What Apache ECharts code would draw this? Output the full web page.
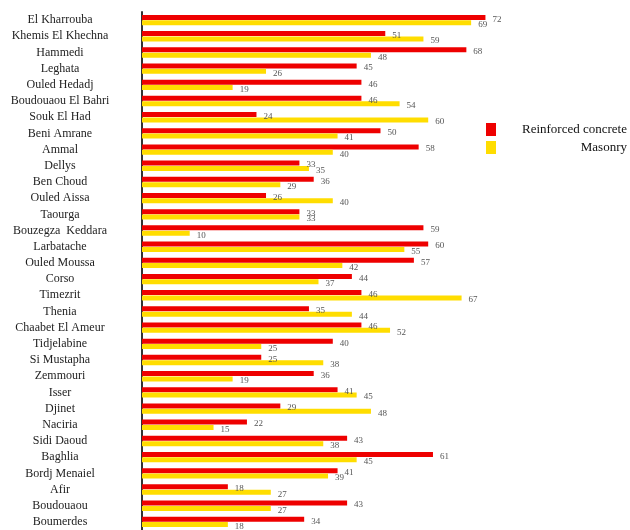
<!DOCTYPE html>
<html>
<head>
<meta charset="utf-8">
<script src="https://cdn.jsdelivr.net/npm/echarts@6/dist/echarts.min.js"></script>
<style>
  html, body { margin: 0; padding: 0; background: #fff; }
  #chart { width: 630px; height: 530px; }
</style>
</head>
<body>
<div id="chart"></div>
<script>
  const communes = ['El Kharrouba', 'Khemis El Khechna', 'Hammedi', 'Leghata', 'Ouled Hedadj',
    'Boudouaou El Bahri', 'Souk El Had', 'Beni Amrane', 'Ammal', 'Dellys', 'Ben Choud',
    'Ouled Aissa', 'Taourga', 'Bouzegza  Keddara', 'Larbatache', 'Ouled Moussa', 'Corso',
    'Timezrit', 'Thenia', 'Chaabet El Ameur', 'Tidjelabine', 'Si Mustapha', 'Zemmouri',
    'Isser', 'Djinet', 'Naciria', 'Sidi Daoud', 'Baghlia', 'Bordj Menaiel', 'Afir',
    'Boudouaou', 'Boumerdes'];
  const concrete = [72, 51, 68, 45, 46, 46, 24, 50, 58, 33, 36, 26, 33, 59, 60, 57, 44,
    46, 35, 46, 40, 25, 36, 41, 29, 22, 43, 61, 41, 18, 43, 34];
  const masonry = [69, 59, 48, 26, 19, 54, 60, 41, 40, 35, 29, 40, 33, 10, 55, 42, 37,
    67, 44, 52, 25, 38, 19, 45, 48, 15, 38, 45, 39, 27, 27, 18];

  const serif = '"Liberation Serif", "Times New Roman", serif';

  const chart = echarts.init(document.getElementById('chart'));

  function valueLabel() {
    return {
      show: true,
      position: 'right',
      distance: 7,
      offset: [0, 2],
      fontFamily: serif,
      fontSize: 9,
      color: '#555'
    };
  }

  chart.setOption({
    animation: false,
    grid: {
      left: 142,
      top: 12,
      width: 477,
      height: 518
    },
    legend: {
      orient: 'vertical',
      left: 486,
      top: 123,
      padding: 0,
      itemWidth: 10,
      itemHeight: 13,
      itemGap: 5,
      icon: 'rect',
      textStyle: {
        fontFamily: serif,
        fontSize: 13,
        color: '#111',
        rich: {
          r: { width: 126, align: 'right', fontFamily: serif, fontSize: 13, color: '#111' }
        }
      },
      formatter: name => '{r|' + name + '}',
      data: ['Reinforced concrete', 'Masonry']
    },
    xAxis: {
      type: 'value',
      min: 0,
      max: 100,
      show: false
    },
    yAxis: {
      type: 'category',
      inverse: true,
      data: communes,
      axisLine: { show: true, lineStyle: { color: '#333', width: 2 } },
      axisTick: { show: false },
      axisLabel: {
        interval: 0,
        align: 'center',
        margin: 82,
        fontFamily: serif,
        fontSize: 12,
        color: '#222'
      }
    },
    series: [{
      name: 'Reinforced concrete',
      type: 'bar',
      barWidth: 5,
      barGap: '8%',
      itemStyle: { color: '#ee0000' },
      label: valueLabel(),
      data: concrete
    }, {
      name: 'Masonry',
      type: 'bar',
      barWidth: 5,
      itemStyle: { color: '#ffdd00' },
      label: valueLabel(),
      data: masonry
    }]
  });
</script>
</body>
</html>
